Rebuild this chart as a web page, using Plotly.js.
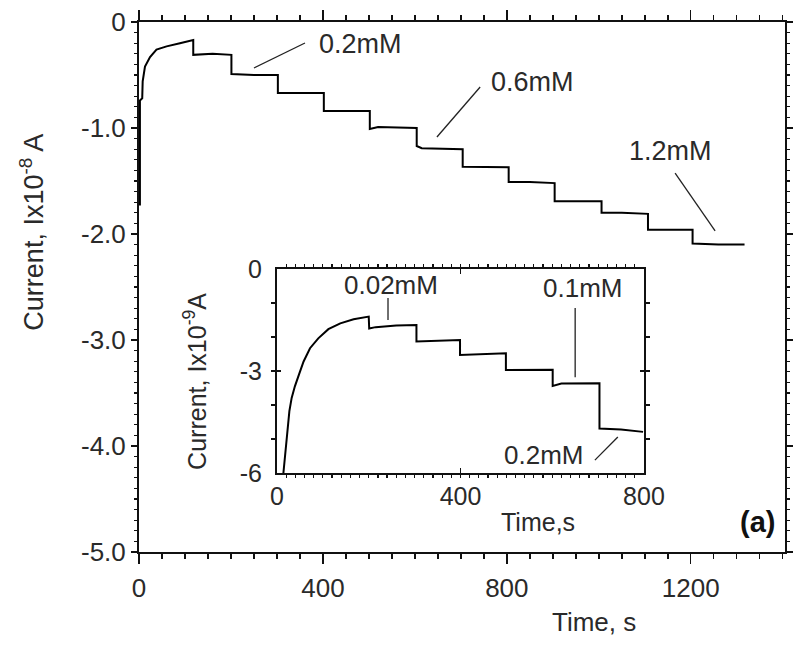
<!DOCTYPE html>
<html>
<head>
<meta charset="utf-8">
<script src="https://cdn.plot.ly/plotly-3.0.1.min.js"></script>
<style>html,body{margin:0;padding:0;background:#fff;}#chart{width:800px;height:647px;}</style>
</head>
<body>
<div id="chart"></div>
<script>
// Main trace: time (s) and current (x10^-8 A)
const mainTime = [2, 2, 7, 8, 13, 24, 38, 60, 89, 118,
  118, 160, 201,
  201, 250, 302,
  302, 350, 402,
  402, 450, 502,
  502, 520, 604,
  604, 615, 704,
  704, 750, 804,
  804, 850, 904,
  904, 950, 1006,
  1006, 1050, 1107,
  1107, 1150, 1204,
  1204, 1260, 1317];
const mainCurrent = [-1.73, -0.74, -0.72, -0.56, -0.42, -0.33, -0.26, -0.23, -0.20, -0.17,
  -0.31, -0.30, -0.31,
  -0.49, -0.50, -0.50,
  -0.67, -0.67, -0.67,
  -0.84, -0.84, -0.84,
  -1.01, -0.99, -1.00,
  -1.17, -1.19, -1.20,
  -1.365, -1.37, -1.37,
  -1.51, -1.51, -1.52,
  -1.69, -1.69, -1.69,
  -1.80, -1.80, -1.81,
  -1.96, -1.96, -1.96,
  -2.09, -2.10, -2.10];

// Inset trace: time (s) and current (x10^-9 A)
const insetTime = [14, 17.5, 22.6, 27, 32, 39, 49, 58, 72, 90, 112, 138, 167, 200,
  201, 215, 260, 304,
  304, 350, 399,
  399, 450, 499,
  499, 550, 601,
  601, 620, 703,
  703, 750, 798];
const insetCurrent = [-6.0, -5.5, -4.72, -4.18, -3.79, -3.45, -3.06, -2.72, -2.33, -2.04, -1.77, -1.60, -1.48, -1.40,
  -1.75, -1.71, -1.66, -1.65,
  -2.13, -2.10, -2.09,
  -2.53, -2.50, -2.48,
  -2.97, -2.97, -2.96,
  -3.44, -3.37, -3.36,
  -4.69, -4.72, -4.79];

// Tick labels
const mainXTicks = [0, 400, 800, 1200];
const mainXLabels = ['0', '400', '800', '1200'];
const mainYTicks = [0, -1, -2, -3, -4, -5];
const mainYLabels = ['0', '-1.0', '-2.0', '-3.0', '-4.0', '-5.0'];
const insetXTicks = [0, 400, 800];
const insetXLabels = ['0', '400', '800'];
const insetYTicks = [0, -3, -6];
const insetYLabels = ['0', '-3', '-6'];

// Concentration labels
const mainNotes = ['0.2mM', '0.6mM', '1.2mM'];
const insetNotes = ['0.02mM', '0.1mM', '0.2mM'];

const FONT = 'Liberation Sans, Arial, sans-serif';
const TXT = '#2a2a2a';
const AX = '#111';

const data = [
  {x: mainTime, y: mainCurrent, type: 'scatter', mode: 'lines',
   line: {color: '#000', width: 2}, xaxis: 'x', yaxis: 'y', showlegend: false, hoverinfo: 'skip'},
  {x: insetTime, y: insetCurrent, type: 'scatter', mode: 'lines',
   line: {color: '#000', width: 2}, xaxis: 'x2', yaxis: 'y2', showlegend: false, hoverinfo: 'skip'}
];

const axisCommon = {showgrid: false, zeroline: false, showline: true, linecolor: AX,
  tickcolor: AX, tickfont: {family: FONT, size: 26, color: TXT}};

const layout = {
  width: 800, height: 647,
  margin: {l: 139, r: 15, t: 22, b: 95},
  paper_bgcolor: '#fff', plot_bgcolor: 'rgba(0,0,0,0)',
  showlegend: false,
  font: {family: FONT, color: TXT},
  xaxis: Object.assign({}, axisCommon, {
    range: [0, 1405], tickmode: 'array', tickvals: mainXTicks, ticktext: mainXLabels,
    ticks: 'outside', ticklen: 10, tickwidth: 1.5, linewidth: 2, mirror: 'ticks',
    minor: {tickmode: 'linear', tick0: 0, dtick: 50, ticklen: 5, tickwidth: 1.5, tickcolor: AX, showgrid: false},
    ticklabelstandoff: 2
  }),
  // extra unlabeled major ticks every 200 s
  xaxis3: {overlaying: 'x', anchor: 'y', range: [0, 1405], tickmode: 'linear', tick0: 0, dtick: 200,
    ticks: 'outside', ticklen: 10, tickwidth: 1.5, tickcolor: AX, mirror: 'ticks', showline: false,
    showticklabels: false, showgrid: false, zeroline: false},
  yaxis: Object.assign({}, axisCommon, {
    range: [-5, 0], tickmode: 'array', tickvals: mainYTicks, ticktext: mainYLabels,
    ticks: 'outside', ticklen: 6, tickwidth: 1.5, linewidth: 2, mirror: 'ticks',
    minor: {tickmode: 'linear', tick0: 0, dtick: 0.1, ticklen: 3, tickwidth: 1.2, tickcolor: AX, showgrid: false},
    ticklabelstandoff: 0
  }),
  yaxis3: {overlaying: 'y', anchor: 'x', range: [-5, 0], tickmode: 'linear', tick0: 0, dtick: 0.5,
    ticks: 'outside', ticklen: 6, tickwidth: 1.5, tickcolor: AX, mirror: 'ticks', showline: false,
    showticklabels: false, showgrid: false, zeroline: false},
  xaxis2: Object.assign({}, axisCommon, {
    domain: [0.2136, 0.7817], anchor: 'y2', range: [0, 800],
    tickmode: 'array', tickvals: insetXTicks, ticktext: insetXLabels,
    ticks: 'inside', ticklen: 5, tickwidth: 1.5, linewidth: 2, mirror: 'ticks',
    minor: {tickmode: 'linear', tick0: 0, dtick: 20, ticklen: 3, tickwidth: 1.2, tickcolor: AX, showgrid: false},
    tickfont: {family: FONT, size: 25, color: TXT}, ticklabelstandoff: 0
  }),
  yaxis2: Object.assign({}, axisCommon, {
    domain: [0.149, 0.534], anchor: 'x2', range: [-6, 0],
    tickmode: 'array', tickvals: insetYTicks, ticktext: insetYLabels,
    ticks: 'inside', ticklen: 4, tickwidth: 1.5, linewidth: 2, mirror: 'ticks',
    minor: {tickmode: 'linear', tick0: 0, dtick: 1, ticklen: 4, tickwidth: 1.5, tickcolor: AX, showgrid: false},
    tickfont: {family: FONT, size: 25, color: TXT}, ticklabelstandoff: 8
  }),
  annotations: [
    {text: 'Time, s', xref: 'paper', yref: 'paper', x: 0.704, y: -0.132, showarrow: false,
     font: {family: FONT, size: 26, color: TXT}, xanchor: 'center', yanchor: 'middle'},
    {text: 'Current, Ix10<sup>-8</sup> A', xref: 'paper', yref: 'paper', x: -0.166, y: 0.604, showarrow: false,
     textangle: -90, font: {family: FONT, size: 27, color: TXT}, xanchor: 'center', yanchor: 'middle'},
    {text: 'Time,s', xref: 'paper', yref: 'paper', x: 0.618, y: 0.0566, showarrow: false,
     font: {family: FONT, size: 25, color: TXT}, xanchor: 'center', yanchor: 'middle'},
    {text: 'Current, Ix10<sup>-9</sup>A', xref: 'paper', yref: 'paper', x: 0.0867, y: 0.321, showarrow: false,
     textangle: -90, font: {family: FONT, size: 25, color: TXT}, xanchor: 'center', yanchor: 'middle'},
    {text: '<b>(a)</b>', xref: 'paper', yref: 'paper', x: 0.957, y: 0.057, showarrow: false,
     font: {family: FONT, size: 29, color: '#111'}, xanchor: 'center', yanchor: 'middle'},
    {text: mainNotes[0], xref: 'x', yref: 'y', x: 481, y: -0.208, showarrow: false,
     font: {family: FONT, size: 27, color: TXT}, xanchor: 'center', yanchor: 'middle'},
    {text: mainNotes[1], xref: 'x', yref: 'y', x: 855, y: -0.566, showarrow: false,
     font: {family: FONT, size: 27, color: TXT}, xanchor: 'center', yanchor: 'middle'},
    {text: mainNotes[2], xref: 'x', yref: 'y', x: 1157, y: -1.217, showarrow: false,
     font: {family: FONT, size: 27, color: TXT}, xanchor: 'center', yanchor: 'middle'},
    {text: insetNotes[0], xref: 'x2', yref: 'y2', x: 248, y: -0.47, showarrow: false,
     font: {family: FONT, size: 26, color: TXT}, xanchor: 'center', yanchor: 'middle'},
    {text: insetNotes[1], xref: 'x2', yref: 'y2', x: 665, y: -0.56, showarrow: false,
     font: {family: FONT, size: 26, color: TXT}, xanchor: 'center', yanchor: 'middle'},
    {text: insetNotes[2], xref: 'x2', yref: 'y2', x: 580, y: -5.47, showarrow: false,
     font: {family: FONT, size: 26, color: TXT}, xanchor: 'center', yanchor: 'middle'}
  ],
  shapes: [
    {type: 'line', xref: 'x', yref: 'y', x0: 361, y0: -0.198, x1: 250, y1: -0.434, line: {color: '#222', width: 1.3}},
    {type: 'line', xref: 'x', yref: 'y', x0: 742, y0: -0.613, x1: 648, y1: -1.085, line: {color: '#222', width: 1.3}},
    {type: 'line', xref: 'x', yref: 'y', x0: 1166, y0: -1.425, x1: 1253, y1: -1.97, line: {color: '#222', width: 1.3}},
    {type: 'line', xref: 'x2', yref: 'y2', x0: 242, y0: -0.85, x1: 242, y1: -1.5, line: {color: '#222', width: 1.3}},
    {type: 'line', xref: 'x2', yref: 'y2', x0: 650, y0: -1.15, x1: 650, y1: -3.18, line: {color: '#222', width: 1.3}},
    {type: 'line', xref: 'x2', yref: 'y2', x0: 693, y0: -5.62, x1: 743, y1: -4.94, line: {color: '#222', width: 1.3}}
  ]
};

Plotly.newPlot('chart', data, layout, {staticPlot: true, displayModeBar: false});
</script>
</body>
</html>
